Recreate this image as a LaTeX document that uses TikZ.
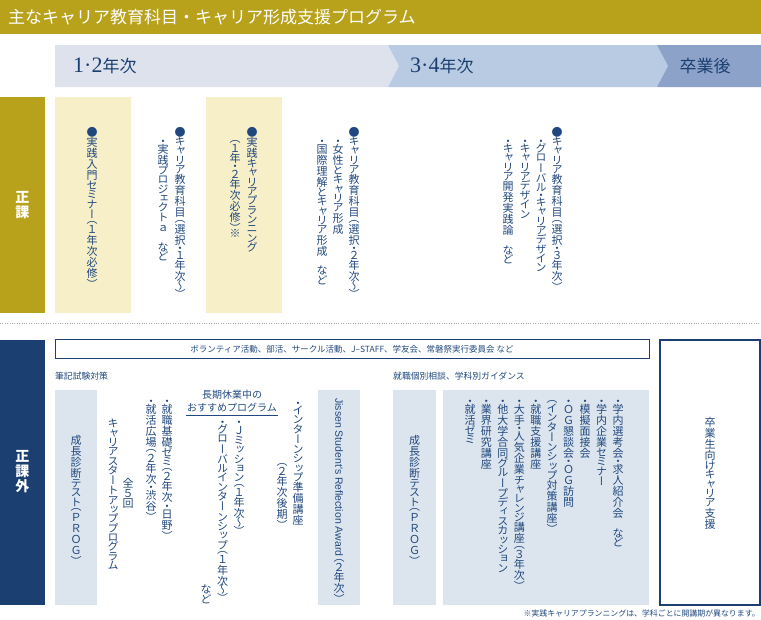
\documentclass[tikz,border=0pt]{standalone}
\usepackage{fontspec}
\usepackage{xcolor}
\usepackage{tikz}
\setmainfont{Liberation Serif}
\newfontfamily\jp{Noto Sans CJK JP}
\newfontfamily\tate[RawFeature=+vert]{Noto Sans CJK JP}
\newfontfamily\en{Liberation Sans}
\definecolor{gold}{HTML}{B8A11B}
\definecolor{cream}{HTML}{F6EFC7}
\definecolor{navy}{HTML}{1B3F70}
\definecolor{ink}{HTML}{21487E}
\definecolor{paleblue}{HTML}{DCE5EE}
\definecolor{stepA}{HTML}{DDE2EC}
\definecolor{stepB}{HTML}{B9CBE2}
\definecolor{stepC}{HTML}{8CA2C8}

% one character per line, for vertical text
\ExplSyntaxOn
\cs_new_protected:Npn \tate_cell:nnn #1#2#3
  {
    \vbox_to_ht:nn { #1 em }
      {
        \vss
        \hbox_to_wd:nn { 1em } { \hss \raisebox{ #2 em }[0pt][0pt]{#3} \hss }
        \vss
      }
  }
\cs_new_protected:Npn \tate_char:n #1
  {
    \str_case:nnF {#1}
      {
        { （ } { \tate_cell:nnn { 0.5 } { -0.13 } {#1} }
        { ） } { \tate_cell:nnn { 0.5 } { -0.63 } {#1} }
        { ・ } { \tate_cell:nnn { 0.5 } { -0.38 } {#1} }
        { 〜 } { \tate_cell:nnn { 0.6 } { -0.38 } {#1} }
        { ー } { \tate_cell:nnn { 1 } { -0.38 } {#1} }
      }
      {
        \int_compare:nNnTF { `#1 } < { "4E00 }
          { \tate_cell:nnn { 0.85 } { -0.38 } {#1} }
          {
            \int_compare:nNnTF { `#1 } > { "FF20 }
              { \tate_cell:nnn { 1 } { -0.38 } {#1} }
              {
                \int_compare:nNnTF { `#1 } > { "FF00 }
                  { \tate_cell:nnn { 0.85 } { -0.38 } {#1} }
                  { \tate_cell:nnn { 1 } { -0.38 } {#1} }
              }
          }
      }
  }
\NewDocumentCommand \vt { m }
  {
    \tl_set:No \l_tmpa_tl {#1}
    \vbox:n { \offinterlineskip \tl_map_function:NN \l_tmpa_tl \tate_char:n }
  }
\ExplSyntaxOff

\begin{document}
\begin{tikzpicture}[x=1pt,y=-1pt,
    tate/.style={anchor=north, inner sep=0pt, text=ink, font=\tate\fontsize{11}{11}\selectfont},
    yoko/.style={inner sep=0pt, text=ink, font=\jp\fontsize{8.8}{10}\selectfont},
    tab/.style={inner sep=0pt, align=center, text=white,
      font=\jp\bfseries\fontsize{14}{15}\selectfont},
    year/.style={inner sep=0pt, text=navy}]
    \useasboundingbox (0,0) rectangle (761,619);

    % title and time line
    \fill[gold] (0,0) rectangle (761,34);
    \node[inner sep=0pt, anchor=west, text=white, font=\jp\fontsize{17}{17}\selectfont]
        (title) at (8,17) {主なキャリア教育科目・キャリア形成支援プログラム};
    \fill[stepA] (55,45) -- (388,45) -- (399,66) -- (388,87) -- (55,87) -- cycle;
    \fill[stepB] (388,45) -- (657,45) -- (668,66) -- (657,87) -- (388,87) -- (399,66) -- cycle;
    \fill[stepC] (657,45) -- (761,45) -- (761,87) -- (657,87) -- (668,66) -- cycle;
    \node[year, anchor=west] (y12) at (73,66)
        {\fontsize{22}{22}\selectfont 1·2\jp\fontsize{17}{17}\selectfont 年次};
    \node[year, anchor=west] (y34) at (410,66)
        {\fontsize{22}{22}\selectfont 3·4\jp\fontsize{17}{17}\selectfont 年次};
    \node[year, font=\jp\fontsize{17}{17}\selectfont] (after) at (705,66) {卒業後};

    % seika
    \fill[gold] (0,97) rectangle (45,313);
    \node[tab] (seika) at (22.5,205) {正\\課};
    \fill[cream] (55,97) rectangle (131,313);
    \fill[cream] (206,97) rectangle (282,313);
    \node[tate] (nyumon) at (92,127) {\vt{●実践入門セミナー（１年次必修）}};
    \node[tate] (kamoku1) at (180,127) {\vt{●キャリア教育科目（選択・１年次〜）}};
    \node[tate] (project) at (163,138) {\vt{・実践プロジェクトａ　など}};
    \node[tate] (planning) at (252,127) {\vt{●実践キャリアプランニング}};
    \node[tate] (hisshu) at (235,138) {\vt{（１年・２年次必修）※}};
    \node[tate] (kamoku2) at (354,127) {\vt{●キャリア教育科目（選択・２年次〜）}};
    \node[tate] (josei) at (338,138) {\vt{・女性とキャリア形成}};
    \node[tate] (kokusai) at (322,138) {\vt{・国際理解とキャリア形成　など}};
    \node[tate] (kamoku3) at (557,127) {\vt{●キャリア教育科目（選択・３年次）}};
    \node[tate] (global) at (541,138) {\vt{・グローバル・キャリアデザイン}};
    \node[tate] (design) at (525,138) {\vt{・キャリアデザイン}};
    \node[tate] (kaihatsu) at (508,138) {\vt{・キャリア開発実践論　など}};

    \draw[gray!70, dotted] (0,323) -- (761,323);

    % seikagai
    \fill[navy] (0,340) rectangle (45,605);
    \node[tab] (seikagai) at (22.5,472) {正\\課\\外};
    \draw[navy, line width=1pt] (55,339) rectangle (649,358);
    \node[yoko, font=\jp\fontsize{8.5}{9}\selectfont] (club) at (352,349)
        {ボランティア活動、部活、サークル活動、J–STAFF、学友会、常磐祭実行委員会 など};
    \draw[navy, line width=1.6pt] (659.8,339.8) rectangle (759.8,604.8);
    \node[tate, anchor=center] (grad) at (710,473) {\vt{卒業生向けキャリア支援}};

    \node[yoko, anchor=west] (hikki) at (55,376) {筆記試験対策};
    \node[yoko, anchor=west] (sodan) at (393,376) {就職個別相談、学科別ガイダンス};

    \fill[paleblue] (55,390) rectangle (97,605);
    \fill[paleblue] (318,390) rectangle (360,605);
    \fill[paleblue] (393,390) rectangle (436,605);
    \fill[paleblue] (443,390) rectangle (649,605);

    \node[tate, anchor=center] (prog1) at (76,498) {\vt{成長診断テスト（ＰＲＯＧ）}};
    \node[tate, anchor=center] (zen5) at (128,493.5) {\vt{全５回}};
    \node[tate, anchor=center] (startup) at (113,494.5) {\vt{キャリアスタートアッププログラム}};
    \node[tate] (kiso) at (167,398) {\vt{・就職基礎ゼミ（２年次・日野）}};
    \node[tate] (hiroba) at (151,398) {\vt{・就活広場（２年次・渋谷）}};
    \node[inner sep=0pt, align=center, text=ink, font=\jp\fontsize{10}{12.5}\selectfont]
        (osusume) at (232,401) {長期休業中の\\おすすめプログラム};
    \coordinate (ulL) at (186,415);
    \coordinate (ulR) at (278,415);
    \draw[ink, line width=0.8pt] (ulL) -- (ulR);
    \node[tate] (jmission) at (239,419) {\vt{・Ｊミッション（１年次〜）}};
    \node[tate] (gintern) at (222.5,419) {\vt{・グローバルインターンシップ（１年次〜）}};
    \node[tate, anchor=south] (nado) at (206,604) {\vt{など}};
    \node[tate] (junbi) at (298,400) {\vt{・インターンシップ準備講座}};
    \node[tate, anchor=south] (koki) at (282,526) {\vt{（２年次後期）}};
    \node[rotate=-90, anchor=west, inner sep=0pt, text=ink, font=\en\fontsize{10.5}{10}\selectfont]
        (award) at (339,398) {Jissen Student's Reflection Award};
    \node[tate] (award2) at (award.east) {\vt{（２年次）}};

    \node[tate, anchor=center] (prog2) at (414.5,498) {\vt{成長診断テスト（ＰＲＯＧ）}};
    \foreach \t [count=\i from 0] in {・学内選考会・求人紹介会　など, ・学内企業セミナー,
        ・模擬面接会, ・ＯＧ懇談会・ＯＧ訪問, （インターンシップ対策講座）, ・就職支援講座,
        ・大手・人気企業チャレンジ講座（３年次）, ・他大学合同グループディスカッション,
        ・業界研究講座, ・就活ゼミ}
        \node[tate] (shushoku\i) at (618-16.44*\i,398) {\vt{\t}};

    \node[yoko, anchor=east, font=\jp\fontsize{7.9}{9}\selectfont] (note) at (760,614)
        {※実践キャリアプランニングは、学科ごとに開講期が異なります。};
\end{tikzpicture}
\end{document}
